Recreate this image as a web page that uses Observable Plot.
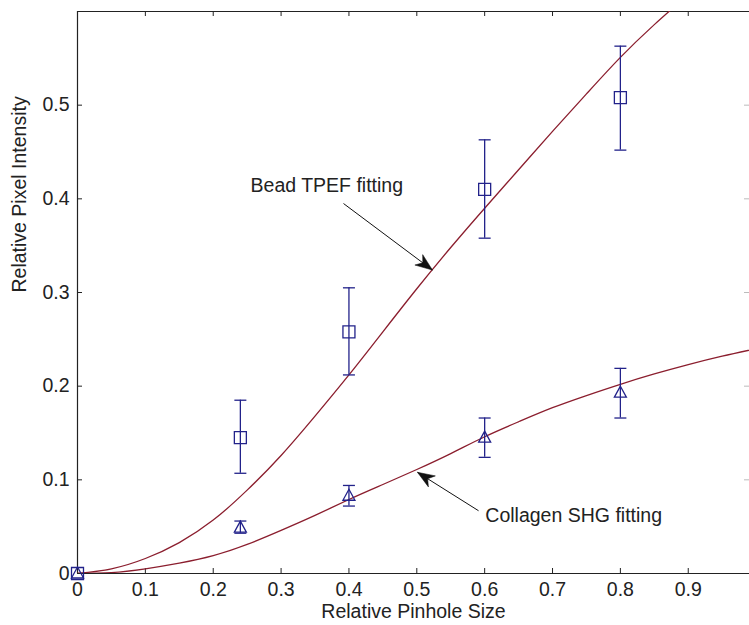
<!DOCTYPE html>
<html>
<head>
<meta charset="utf-8">
<script src="https://cdn.jsdelivr.net/npm/d3@7"></script>
<script src="https://cdn.jsdelivr.net/npm/@observablehq/plot@0.6"></script>
<style>
  html, body { margin: 0; padding: 0; background: #fff; overflow: hidden; }
  #chart { width: 749px; height: 625px; overflow: hidden; }
</style>
</head>
<body>
<div id="chart"></div>
<script>
// ---- data ----
const xTicks = [0, 0.1, 0.2, 0.3, 0.4, 0.5, 0.6, 0.7, 0.8, 0.9];
const yTicks = [0, 0.1, 0.2, 0.3, 0.4, 0.5];

const pinhole  = [0, 0.24, 0.4, 0.6, 0.8];
const beadMean = [0, 0.145, 0.258, 0.41, 0.508];
const beadLow  = [0, 0.107, 0.212, 0.358, 0.452];
const beadHigh = [0, 0.185, 0.305, 0.463, 0.563];
const shgMean  = [0, 0.049, 0.083, 0.145, 0.193];
const shgLow   = [0, 0.043, 0.072, 0.124, 0.166];
const shgHigh  = [0, 0.056, 0.094, 0.166, 0.219];

const beadFitX = [0, 0.05, 0.1, 0.15, 0.2, 0.25, 0.3, 0.35, 0.4, 0.45, 0.5, 0.55, 0.6, 0.65, 0.7, 0.75, 0.8, 0.85, 0.9];
const beadFitY = [0, 0.005, 0.016, 0.033, 0.057, 0.089, 0.126, 0.168, 0.212, 0.258, 0.304, 0.348, 0.39, 0.431, 0.472, 0.512, 0.551, 0.586, 0.618];
const shgFitX = [0, 0.05, 0.1, 0.15, 0.2, 0.25, 0.3, 0.35, 0.4, 0.45, 0.5, 0.55, 0.6, 0.65, 0.7, 0.75, 0.8, 0.85, 0.9, 0.95, 1.0];
const shgFitY = [0, 0.001, 0.005, 0.011, 0.019, 0.031, 0.046, 0.062, 0.079, 0.095, 0.111, 0.128, 0.146, 0.162, 0.177, 0.19, 0.202, 0.213, 0.223, 0.232, 0.24];

const annText   = ["Bead TPEF fitting", "Collagen SHG fitting"];
const annTextX  = [0.255, 0.601];
const annTextY  = [0.414, 0.062];
const arrowX1   = [0.392, 0.591];
const arrowY1   = [0.395, 0.067];
const arrowX2   = [0.523, 0.501];
const arrowY2   = [0.324, 0.108];

// ---- layout ----
const W = 749, H = 625;
const mL = 77, mT = 11, mB = 52, mR = 0;
const xRange = [mL, mL + 678.6];
const yRange = [H - mB, mT];
const plotW = W - mL - mR, plotH = H - mT - mB;

const navy = "#22228a";
const red = "#8b1e2e";

const points = pinhole.map((x, i) => ({x, bm: beadMean[i], bl: beadLow[i], bh: beadHigh[i],
  sm: shgMean[i], sl: shgLow[i], sh: shgHigh[i]}));
const errPts = points.slice(1);
const beadFit = beadFitX.map((x, i) => ({x, y: beadFitY[i]}));
const shgFit = shgFitX.map((x, i) => ({x, y: shgFitY[i]}));
const ann = annText.map((t, i) => ({t, tx: annTextX[i], ty: annTextY[i],
  x1: arrowX1[i], y1: arrowY1[i], x2: arrowX2[i], y2: arrowY2[i]}));

const pxPerX = (xRange[1] - xRange[0]) / 1;
const pxPerY = (yRange[0] - yRange[1]) / 0.6;
ann.forEach(a => {
  const dx = (a.x2 - a.x1) * pxPerX, dy = -(a.y2 - a.y1) * pxPerY;
  a.angle = Math.atan2(dx, -dy) * 180 / Math.PI;
});

const cap = { draw(c) { c.moveTo(-6, 0); c.lineTo(6, 0); } };
const head = { draw(c) { c.moveTo(0, 0); c.lineTo(-6.5, 17); c.lineTo(0, 12); c.lineTo(6.5, 17); c.closePath(); } };
const sq = { draw(c) { c.moveTo(-6, -6); c.lineTo(6, -6); c.lineTo(6, 6); c.lineTo(-6, 6); c.closePath(); } };
const tri = { draw(c) { c.moveTo(0, -6.5); c.lineTo(6, 4.5); c.lineTo(-6, 4.5); c.closePath(); } };

const fmt = d => d === 0 ? "0" : String(d);

const chart = Plot.plot({
  width: W, height: H,
  marginLeft: mL, marginTop: mT, marginBottom: mB, marginRight: mR,
  style: { fontFamily: "'Liberation Sans', Arial, sans-serif", fontSize: "19.5px", color: "#111", background: "#fff" },
  x: { domain: [0, 1], range: xRange },
  y: { domain: [0, 0.6], range: yRange },
  marks: [
    // frame lines (right edge cropped)
    Plot.ruleY([0.6], { stroke: "#222", strokeWidth: 1.2 }),
    Plot.ruleY([0], { stroke: "#222", strokeWidth: 1.2 }),
    Plot.ruleX([0], { stroke: "#222", strokeWidth: 1.2 }),
    // inward ticks
    Plot.tickX(xTicks.slice(1), { x: d => d, insetTop: plotH - 5, stroke: "#222" }),
    Plot.tickX(xTicks.slice(1), { x: d => d, insetBottom: plotH - 5, stroke: "#222" }),
    Plot.tickY(yTicks.slice(1), { y: d => d, insetRight: plotW - 5, stroke: "#222" }),
    Plot.tickY(yTicks.slice(1), { y: d => d, insetLeft: plotW - 5, stroke: "#bbb" }),
    // axes labels
    Plot.axisX(xTicks, { tickSize: 0, tickPadding: 9, tickFormat: fmt, label: null, fill: "#222" }),
    Plot.axisY(yTicks, { tickSize: 0, tickPadding: 8, tickFormat: fmt, label: null, fill: "#222" }),
    Plot.text(["Relative Pinhole Size"], { frameAnchor: "bottom", dy: 44, fill: "#222" }),
    Plot.text(["Relative Pixel Intensity"], { frameAnchor: "left", dx: -58, rotate: -90, fill: "#222" }),
    // fitted curves
    Plot.line(beadFit, { x: "x", y: "y", stroke: red, strokeWidth: 1.3, curve: "natural", clip: true }),
    Plot.line(shgFit, { x: "x", y: "y", stroke: red, strokeWidth: 1.3, curve: "natural", clip: true }),
    // error bars
    Plot.ruleX(errPts, { x: "x", y1: "bl", y2: "bh", stroke: navy, strokeWidth: 1.3 }),
    Plot.ruleX(errPts, { x: "x", y1: "sl", y2: "sh", stroke: navy, strokeWidth: 1.3 }),
    Plot.dot(errPts, { x: "x", y: "bl", symbol: cap, stroke: navy, strokeWidth: 1.3 }),
    Plot.dot(errPts, { x: "x", y: "bh", symbol: cap, stroke: navy, strokeWidth: 1.3 }),
    Plot.dot(errPts, { x: "x", y: "sl", symbol: cap, stroke: navy, strokeWidth: 1.3 }),
    Plot.dot(errPts, { x: "x", y: "sh", symbol: cap, stroke: navy, strokeWidth: 1.3 }),
    // markers
    Plot.dot(points, { x: "x", y: "bm", symbol: sq, stroke: navy, fill: "white", fillOpacity: 0, strokeWidth: 1.3 }),
    Plot.dot(points, { x: "x", y: "sm", symbol: tri, stroke: navy, fill: "none", strokeWidth: 1.3 }),
    // annotations
    Plot.link(ann, { x1: "x1", y1: "y1", x2: "x2", y2: "y2", stroke: "#111", strokeWidth: 1 }),
    Plot.dot(ann, { x: "x2", y: "y2", symbol: head, rotate: "angle", fill: "#111", stroke: "#111", strokeWidth: 0.5 }),
    Plot.text(ann, { x: "tx", y: "ty", text: "t", textAnchor: "start", fill: "#222" })
  ]
});
document.getElementById("chart").appendChild(chart);
</script>
</body>
</html>
